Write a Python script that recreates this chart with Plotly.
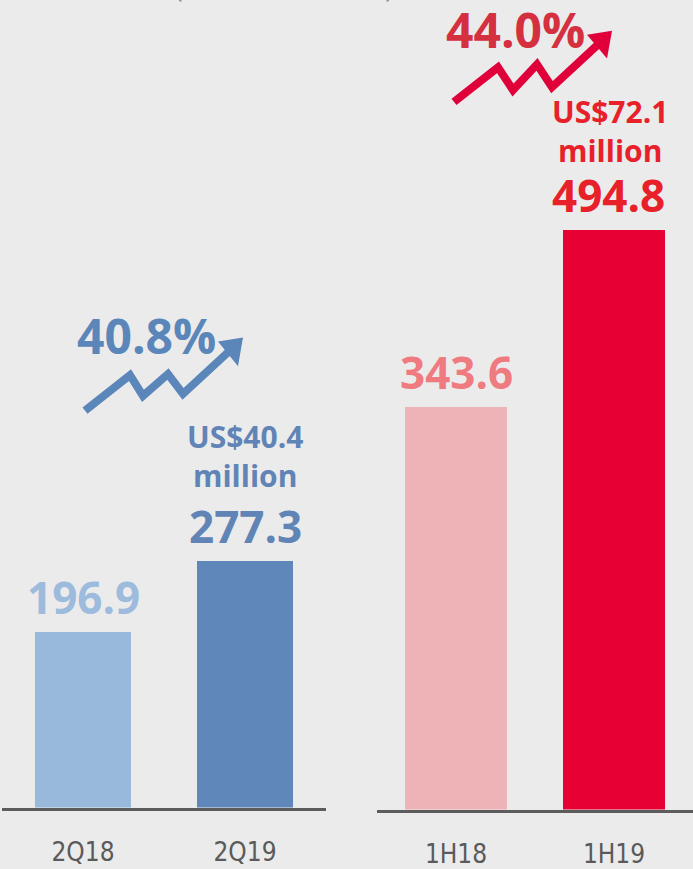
import plotly.graph_objects as go

W, H = 693, 869

# ---- data ----
q_categories = ["2Q18", "2Q19"]
q_values = [196.9, 277.3]
q_labels = ["196.9", "277.3"]
h_categories = ["1H18", "1H19"]
h_values = [343.6, 494.8]
h_labels = ["343.6", "494.8"]
q_growth = "40.8%"
h_growth = "44.0%"
q_usd = "US$40.4<br>million"
h_usd = "US$72.1<br>million"

BG = "#ebebeb"
q_colors = ["#98b9db", "#5f87b9"]
h_colors = ["#eeb3b6", "#e60033"]
q_text_colors = ["#9dbbdc", "#6184b6"]
h_text_colors = ["#ef7a7f", "#e8202a"]
BLUE = "#5b86b9"
RED = "#e0003a"
FONT = "Open Sans"
TICK_FONT = "DejaVu Sans Condensed, Liberation Sans Narrow, Arial Narrow, sans-serif"


def px(x):
    return x / W


def py(y):
    return 1 - y / H


fig = go.Figure()
fig.add_trace(go.Bar(x=q_categories, y=q_values, marker=dict(color=q_colors, line=dict(width=0)),
                     width=0.593, xaxis="x", yaxis="y", hoverinfo="skip"))
fig.add_trace(go.Bar(x=h_categories, y=h_values, marker=dict(color=h_colors, line=dict(width=0)),
                     width=0.646, xaxis="x2", yaxis="y2", hoverinfo="skip"))

annotations = []
# value labels
for c, v, t, col in zip(q_categories, q_values, q_labels, q_text_colors):
    annotations.append(dict(x=c, y=v, xref="x", yref="y", text=f"<b>{t}</b>", showarrow=False,
                            yanchor="bottom", yshift=3, font=dict(family=FONT, size=44, color=col)))
h_xshift = [0, -6]
for c, v, t, col, xs in zip(h_categories, h_values, h_labels, h_text_colors, h_xshift):
    annotations.append(dict(x=c, y=v, xref="x2", yref="y2", text=f"<b>{t}</b>", showarrow=False,
                            yanchor="bottom", yshift=3, xshift=xs,
                            font=dict(family=FONT, size=44, color=col)))
# USD labels
annotations.append(dict(x=q_categories[1], y=q_values[1], xref="x", yref="y", text=f"<b>{q_usd}</b>",
                        showarrow=False, yanchor="bottom", yshift=63,
                        font=dict(family=FONT, size=30, color=q_text_colors[1])))
annotations.append(dict(x=h_categories[1], y=h_values[1], xref="x2", yref="y2", text=f"<b>{h_usd}</b>",
                        showarrow=False, yanchor="bottom", yshift=57, xshift=-4,
                        font=dict(family=FONT, size=30, color=h_text_colors[1])))
# growth labels
annotations.append(dict(x=px(146), y=py(339), xref="paper", yref="paper", text=f"<b>{q_growth}</b>",
                        showarrow=False, xanchor="center", yanchor="middle",
                        font=dict(family=FONT, size=48, color=BLUE)))
annotations.append(dict(x=px(515), y=py(30), xref="paper", yref="paper", text=f"<b>{h_growth}</b>",
                        showarrow=False, xanchor="center", yanchor="middle",
                        font=dict(family=FONT, size=48, color="#d5303f")))
# cut-off heading at top
annotations.append(dict(x=px(284), y=py(7), xref="paper", yref="paper",
                        text="(" + "\u00a0" * 30 + ")", showarrow=False,
                        xanchor="center", yanchor="bottom",
                        font=dict(family=FONT, size=26, color="#8a8a8a")))


def path(points):
    return "M " + " L ".join(f"{px(x)},{py(y)}" for x, y in points)


shapes = [
    dict(type="path", xref="paper", yref="paper",
         path=path([(85, 415), (130, 379), (143, 400), (168, 378), (183, 398), (229, 355)]),
         line=dict(color=BLUE, width=8)),
    dict(type="path", xref="paper", yref="paper",
         path=path([(243, 341), (218, 345), (238, 370)]) + " Z",
         line=dict(color=BLUE, width=0), fillcolor=BLUE),
    dict(type="path", xref="paper", yref="paper",
         path=path([(454, 103), (498, 68), (513, 91), (537, 65), (552, 88), (598, 45)]),
         line=dict(color=RED, width=8)),
    dict(type="path", xref="paper", yref="paper",
         path=path([(612, 31), (587, 35), (607, 59)]) + " Z",
         line=dict(color=RED, width=0), fillcolor=RED),
]

axis_common = dict(showgrid=False, zeroline=False, showline=True, linecolor="#5c5c5c", linewidth=3,
                   ticks="outside", ticklen=19, tickcolor="rgba(0,0,0,0)",
                   tickfont=dict(family=TICK_FONT, size=26, color="#5a5a5a"),
                   range=[-0.5, 1.5], fixedrange=True)

fig.update_layout(
    width=W, height=H,
    margin=dict(l=0, r=0, t=0, b=0),
    paper_bgcolor=BG, plot_bgcolor=BG,
    showlegend=False,
    xaxis=dict(domain=[px(2), px(326)], anchor="y", **axis_common),
    yaxis=dict(domain=[py(816), 1], range=[0, 816 / 0.899], visible=False, fixedrange=True),
    xaxis2=dict(domain=[px(377), 1], anchor="y2", **axis_common),
    yaxis2=dict(domain=[py(818), 1], range=[0, 818 / 1.183], visible=False, fixedrange=True),
    annotations=annotations,
    shapes=shapes,
    bargap=0,
)

fig.write_html("out.html", config={"responsive": False, "displayModeBar": False},
               post_script="document.body.style.margin='0';document.body.style.overflow='hidden';")
